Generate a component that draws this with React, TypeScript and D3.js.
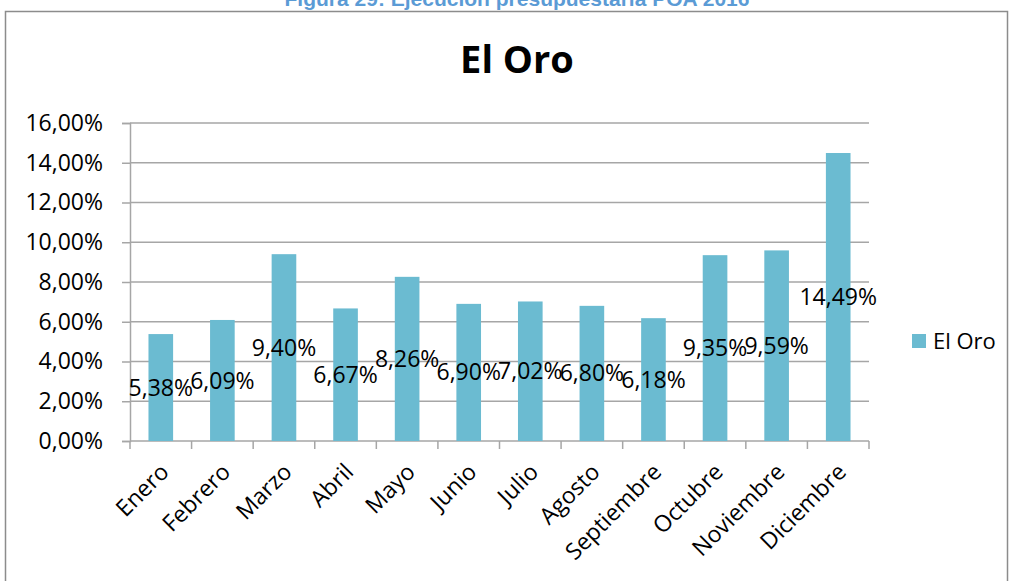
import React, { useEffect, useRef } from 'react';
import * as d3 from 'd3';

const months = ['Enero', 'Febrero', 'Marzo', 'Abril', 'Mayo', 'Junio', 'Julio', 'Agosto', 'Septiembre', 'Octubre', 'Noviembre', 'Diciembre'];
const values = [5.38, 6.09, 9.40, 6.67, 8.26, 6.90, 7.02, 6.80, 6.18, 9.35, 9.59, 14.49];
const yTicks = [0, 2, 4, 6, 8, 10, 12, 14, 16];
const seriesName = 'El Oro';
const caption = 'Figura 29: Ejecución presupuestaria POA 2016';

const fmt = (v: number) => v.toFixed(2).replace('.', ',') + '%';

const App = () => {
    const ref = useRef<SVGSVGElement>(null);

    useEffect(() => {
        const svg = d3.select(ref.current)
            .attr('width', 1011)
            .attr('height', 581);
        svg.selectAll('*').remove();

        const left = 130, right = 869, top = 123, bottom = 441;
        const font = "'Open Sans', sans-serif";

        // frame and caption
        svg.append('rect')
            .attr('x', 5.5).attr('y', 11.5)
            .attr('width', 1002).attr('height', 600)
            .attr('fill', 'white')
            .attr('stroke', '#8c8c8c')
            .attr('stroke-width', 1.5);

        svg.append('text')
            .attr('x', 517).attr('y', 6)
            .attr('text-anchor', 'middle')
            .style('font-family', "'Liberation Sans', Arial, sans-serif")
            .style('font-weight', 'bold')
            .style('font-size', '21px')
            .attr('fill', '#5b9bd5')
            .text(caption);

        svg.append('text')
            .attr('x', 517).attr('y', 73)
            .attr('text-anchor', 'middle')
            .style('font-family', font)
            .style('font-weight', 'bold')
            .style('font-size', '38px')
            .attr('fill', 'black')
            .text(seriesName);

        const x = d3.scaleBand()
            .domain(months)
            .range([left, right])
            .paddingInner(0.6)
            .paddingOuter(0.3);

        const y = d3.scaleLinear()
            .domain([0, 16])
            .range([bottom, top]);

        // gridlines
        svg.append('g')
            .selectAll('line')
            .data(yTicks.slice(1))
            .enter()
            .append('line')
            .attr('x1', left).attr('x2', right)
            .attr('y1', d => y(d)).attr('y2', d => y(d))
            .attr('stroke', '#a6a6a6')
            .attr('stroke-width', 1.5);

        // y axis
        const yAxis = d3.axisLeft(y)
            .tickValues(yTicks)
            .tickSize(8)
            .tickPadding(19)
            .tickFormat(d => fmt(d as number));
        const gy = svg.append('g')
            .attr('transform', `translate(${left}, 0)`)
            .call(yAxis);
        gy.select('.domain').attr('stroke', '#a6a6a6').attr('stroke-width', 1.5);
        gy.selectAll('.tick line').attr('stroke', '#a6a6a6').attr('stroke-width', 1.5);
        gy.selectAll('.tick text')
            .style('font-family', font)
            .style('font-size', '23px')
            .attr('fill', 'black');

        // x axis with boundary ticks
        const step = (right - left) / months.length;
        const gx = svg.append('g');
        gx.append('line')
            .attr('x1', left).attr('x2', right)
            .attr('y1', bottom).attr('y2', bottom)
            .attr('stroke', '#a6a6a6').attr('stroke-width', 1.5);
        gx.selectAll('.bt')
            .data(d3.range(months.length + 1))
            .enter()
            .append('line')
            .attr('x1', i => left + i * step).attr('x2', i => left + i * step)
            .attr('y1', bottom).attr('y2', bottom + 8)
            .attr('stroke', '#a6a6a6').attr('stroke-width', 1.5);

        gx.selectAll('.xl')
            .data(months)
            .enter()
            .append('text')
            .attr('transform', d => `translate(${(x(d) as number) + x.bandwidth() / 2 - 2}, 462) rotate(-45)`)
            .attr('text-anchor', 'end')
            .attr('dy', '0.7em')
            .style('font-family', font)
            .style('font-size', '23px')
            .attr('fill', 'black')
            .text(d => d);

        // bars
        svg.selectAll('.bar')
            .data(values)
            .enter()
            .append('rect')
            .attr('x', (d, i) => x(months[i]) as number)
            .attr('y', d => y(d))
            .attr('width', x.bandwidth())
            .attr('height', d => bottom - y(d))
            .attr('fill', '#6bbbd1');

        // data labels centred in bar
        svg.selectAll('.lbl')
            .data(values)
            .enter()
            .append('text')
            .attr('x', (d, i) => (x(months[i]) as number) + x.bandwidth() / 2)
            .attr('y', d => y(d / 2))
            .attr('dy', '0.35em')
            .attr('text-anchor', 'middle')
            .style('font-family', font)
            .style('font-size', '23px')
            .attr('fill', 'black')
            .text(d => fmt(d));

        // legend
        svg.append('rect')
            .attr('x', 912).attr('y', 334)
            .attr('width', 14).attr('height', 14)
            .attr('fill', '#6bbbd1');
        svg.append('text')
            .attr('x', 933).attr('y', 341)
            .attr('dy', '0.35em')
            .style('font-family', font)
            .style('font-size', '22px')
            .attr('fill', 'black')
            .text(seriesName);
    }, []);

    return (
        <svg ref={ref} style={{ position: 'absolute', left: 0, top: 0 }}></svg>
    );
};

export default App;
